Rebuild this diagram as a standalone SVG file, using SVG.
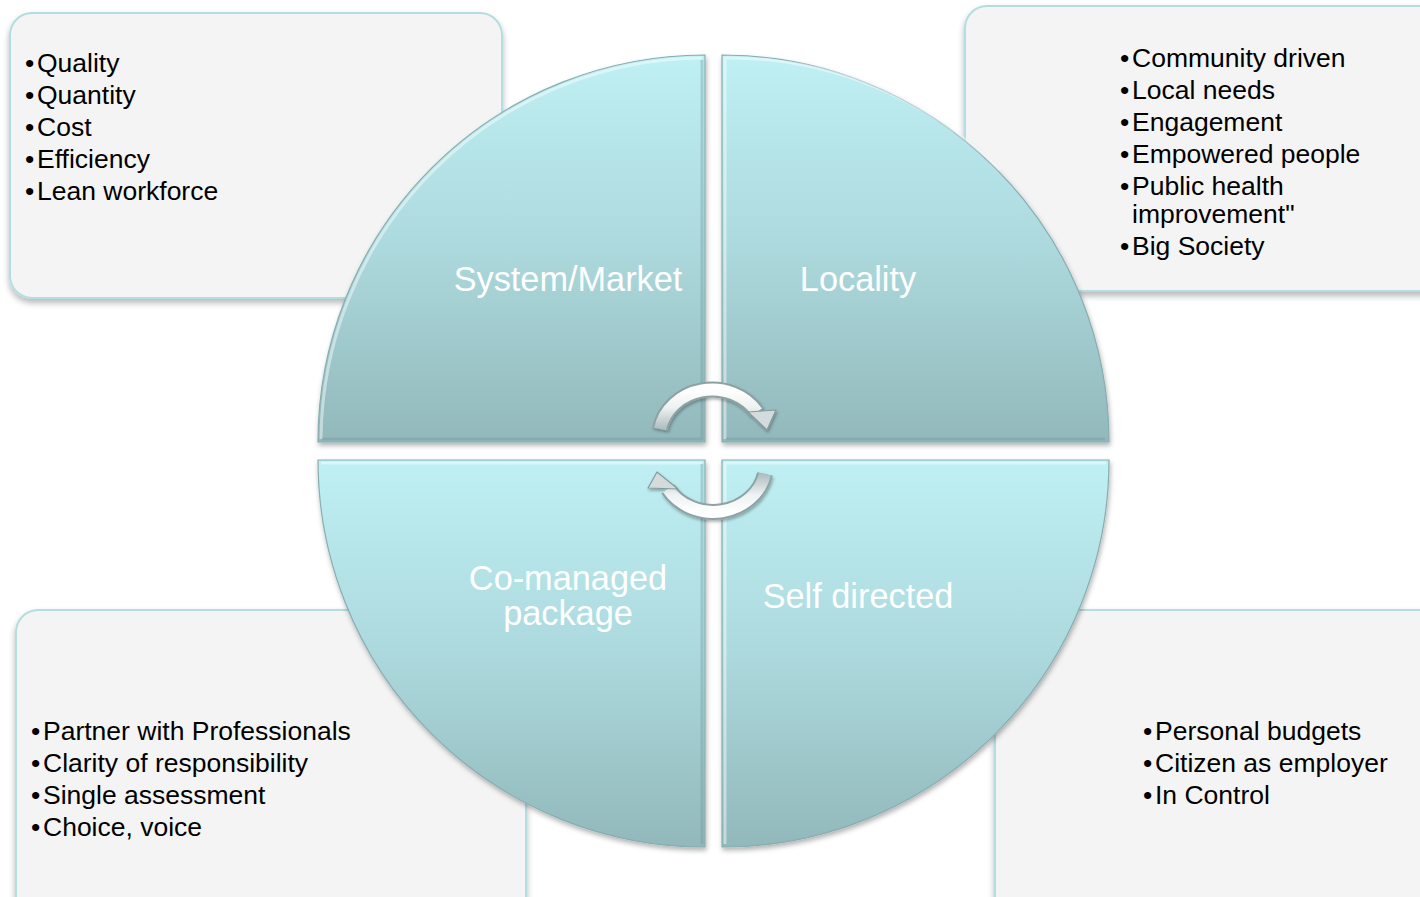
<svg xmlns="http://www.w3.org/2000/svg" width="1420" height="897" viewBox="0 0 1420 897">
  <defs>
    <style>
      .box { fill: #f4f4f4; stroke: #b3dde1; stroke-width: 2; filter: url(#boxShadow); }
      .item { font-family: "Liberation Sans", Arial, sans-serif; font-size: 26.5px; fill: #000; }
      .quad { stroke: #86aeb1; stroke-width: 1.2; filter: url(#quadShadow); }
      .bevel { fill: none; stroke: #ffffff; stroke-opacity: 0.45; stroke-width: 3; }
      .shade { fill: none; stroke: #6f9598; stroke-opacity: 0.35; stroke-width: 3; }
      .label { font-family: "Liberation Sans", Arial, sans-serif; font-size: 34.3px; fill: #ffffff; text-anchor: middle; }
      .arrowEdge { fill: none; stroke: #8ea1a3; stroke-width: 16; }
      .arrowBody { fill: none; stroke-width: 12; }
      .arrowHead { fill: #d3dbdc; stroke: #879a9c; stroke-width: 1.2; stroke-linejoin: round; }
    </style>
    <filter id="boxShadow" x="-5%" y="-5%" width="110%" height="115%">
      <feDropShadow dx="0" dy="4" stdDeviation="3" flood-color="#000" flood-opacity="0.28"/>
    </filter>
    <filter id="quadShadow" x="-5%" y="-5%" width="115%" height="115%">
      <feDropShadow dx="1" dy="3" stdDeviation="2.5" flood-color="#000" flood-opacity="0.3"/>
    </filter>
    <filter id="arrowShadow" x="-20%" y="-20%" width="140%" height="140%">
      <feDropShadow dx="1" dy="2" stdDeviation="1.5" flood-color="#000" flood-opacity="0.3"/>
    </filter>
    <linearGradient id="quadFill" x1="0" y1="0" x2="0" y2="1">
      <stop offset="0" stop-color="#bff0f4"/>
      <stop offset="0.5" stop-color="#acd9dd"/>
      <stop offset="1" stop-color="#92b8bb"/>
    </linearGradient>
    <linearGradient id="silver" x1="0" y1="0" x2="0" y2="1">
      <stop offset="0" stop-color="#ffffff"/>
      <stop offset="0.45" stop-color="#eef2f2"/>
      <stop offset="1" stop-color="#aebdbf"/>
    </linearGradient>
    <linearGradient id="silverUp" x1="0" y1="1" x2="0" y2="0">
      <stop offset="0" stop-color="#ffffff"/>
      <stop offset="0.45" stop-color="#eef2f2"/>
      <stop offset="1" stop-color="#aebdbf"/>
    </linearGradient>
  </defs>

  <!-- corner text panels -->
  <g id="panel-system">
    <rect class="box" x="10" y="13" width="492" height="285" rx="22"/>
    <text class="item" x="25" y="72">•</text><text class="item" x="37" y="72">Quality</text>
    <text class="item" x="25" y="104">•</text><text class="item" x="37" y="104">Quantity</text>
    <text class="item" x="25" y="136">•</text><text class="item" x="37" y="136">Cost</text>
    <text class="item" x="25" y="168">•</text><text class="item" x="37" y="168">Efficiency</text>
    <text class="item" x="25" y="200">•</text><text class="item" x="37" y="200">Lean workforce</text>
  </g>

  <g id="panel-locality">
    <rect class="box" x="965" y="6" width="480" height="285" rx="22"/>
    <text class="item" x="1120" y="67">•</text><text class="item" x="1132" y="67">Community driven</text>
    <text class="item" x="1120" y="99">•</text><text class="item" x="1132" y="99">Local needs</text>
    <text class="item" x="1120" y="131">•</text><text class="item" x="1132" y="131">Engagement</text>
    <text class="item" x="1120" y="163">•</text><text class="item" x="1132" y="163">Empowered people</text>
    <text class="item" x="1120" y="195">•</text><text class="item" x="1132" y="195">Public health</text>
    <text class="item" x="1132" y="223">improvement"</text>
    <text class="item" x="1120" y="255">•</text><text class="item" x="1132" y="255">Big Society</text>
  </g>

  <g id="panel-comanaged">
    <rect class="box" x="16" y="610" width="510" height="310" rx="22"/>
    <text class="item" x="31" y="740">•</text><text class="item" x="43" y="740">Partner with Professionals</text>
    <text class="item" x="31" y="772">•</text><text class="item" x="43" y="772">Clarity of responsibility</text>
    <text class="item" x="31" y="804">•</text><text class="item" x="43" y="804">Single assessment</text>
    <text class="item" x="31" y="836">•</text><text class="item" x="43" y="836">Choice, voice</text>
  </g>

  <g id="panel-self">
    <rect class="box" x="995" y="610" width="450" height="310" rx="22"/>
    <text class="item" x="1143" y="740">•</text><text class="item" x="1155" y="740">Personal budgets</text>
    <text class="item" x="1143" y="772">•</text><text class="item" x="1155" y="772">Citizen as employer</text>
    <text class="item" x="1143" y="804">•</text><text class="item" x="1155" y="804">In Control</text>
  </g>

  <!-- quadrants of the central disc -->
  <g id="quad-system">
    <path class="quad" fill="url(#quadFill)" d="M705 442 L318 442 A387 387 0 0 1 705 55 Z"/>
    <path class="bevel" d="M321 439 A384 384 0 0 1 702 58"/>
    <path class="shade" d="M702 60 L702 439 L322 439"/>
    <text class="label" x="568" y="291">System/Market</text>
  </g>
  <g id="quad-locality">
    <path class="quad" fill="url(#quadFill)" d="M722 442 L722 55 A387 387 0 0 1 1109 442 Z"/>
    <path class="bevel" d="M725 439 L725 58 A384 384 0 0 1 1000 170"/>
    <path class="shade" d="M726 439 L1105 439"/>
    <text class="label" x="858" y="291">Locality</text>
  </g>
  <g id="quad-comanaged">
    <path class="quad" fill="url(#quadFill)" d="M705 460 L705 847 A387 387 0 0 1 318 460 Z"/>
    <path class="bevel" d="M321 463 L702 463"/>
    <path class="shade" d="M702 464 L702 844"/>
    <text class="label" x="568" y="590">Co-managed</text>
    <text class="label" x="568" y="625">package</text>
  </g>
  <g id="quad-self">
    <path class="quad" fill="url(#quadFill)" d="M722 460 L1109 460 A387 387 0 0 1 722 847 Z"/>
    <path class="bevel" d="M725 844 L725 463 L1106 463"/>
    <text class="label" x="858" y="608">Self directed</text>
  </g>

  <!-- cycle arrows -->
  <g id="connectors">
    <g filter="url(#arrowShadow)">
      <path class="arrowEdge" d="M660 429 A53 48 0 0 1 757 412"/>
      <path class="arrowBody" stroke="url(#silver)" d="M660 429 A53 48 0 0 1 757 412"/>
      <path class="arrowHead" d="M748 412 L776 410 L767 430 Z"/>
      <path class="arrowEdge" d="M765 474 A53 48 0 0 1 668 489"/>
      <path class="arrowBody" stroke="url(#silverUp)" d="M765 474 A53 48 0 0 1 668 489"/>
      <path class="arrowHead" d="M648 488 L657 472 L678 489 Z"/>
    </g>
  </g>
</svg>
